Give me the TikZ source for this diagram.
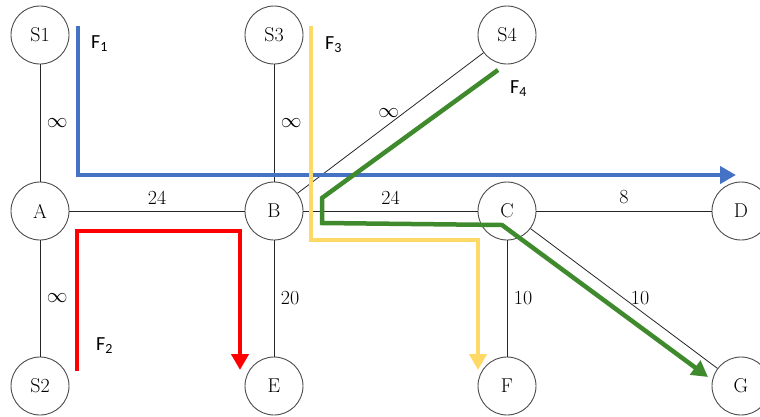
\documentclass[tikz,border=0pt]{standalone}
\usepackage{fontspec}
\newfontfamily\flowfont{Carlito}
\usetikzlibrary{arrows.meta}
\definecolor{flowblue}{RGB}{68,114,196}
\definecolor{flowyellow}{RGB}{255,217,102}
\definecolor{flowred}{RGB}{255,0,0}
\definecolor{flowgreen}{RGB}{64,138,46}
\tikzset{
  vertex/.style={circle, draw=black!70, line width=0.9pt, minimum size=58pt, inner sep=0pt, font=\fontsize{20}{24}\selectfont},
  edge/.style={draw=black!85, line width=0.8pt},
  elabel/.style={inner sep=6.5pt, font=\fontsize{20}{24}\selectfont},
  flow/.style={line width=4.5pt, line join=miter, line cap=butt},
  flowtip/.style={-{Triangle[length=16pt,width=17pt]}},
  flowlabel/.style={anchor=base west, inner sep=0pt, font=\flowfont\fontsize{20}{24}\selectfont}
}
\begin{document}
\begin{tikzpicture}[x=1pt,y=-1pt]
\useasboundingbox (0,0) rectangle (760,416);
% vertices
\node[vertex] (S1) at (40,35) {S1};
\node[vertex] (S3) at (274,35) {S3};
\node[vertex] (S4) at (507,35) {S4};
\node[vertex] (A) at (40,211) {A};
\node[vertex] (B) at (274,211) {B};
\node[vertex] (C) at (507,211) {C};
\node[vertex] (D) at (741,211) {D};
\node[vertex] (S2) at (40,386) {S2};
\node[vertex] (E) at (274,386) {E};
\node[vertex] (F) at (507,386) {F};
\node[vertex] (G) at (741,386) {G};
% edges
\draw[edge] (S1) -- node[elabel, right] {$\infty$} (A);
\draw[edge] (S3) -- node[elabel, right] {$\infty$} (B);
\draw[edge] (B) -- node[elabel, above, pos=0.49] {$\infty$} (S4);
\draw[edge] (A) -- node[elabel, above] {24} (B);
\draw[edge] (B) -- node[elabel, above] {24} (C);
\draw[edge] (C) -- node[elabel, above] {8} (D);
\draw[edge] (A) -- node[elabel, right] {$\infty$} (S2);
\draw[edge] (B) -- node[elabel, right] {20} (E);
\draw[edge] (C) -- node[elabel, right] {10} (F);
\draw[edge] (C) -- node[elabel, right] {10} (G);
% flow coordinates
\coordinate (f1s) at (78,26);
\coordinate (f1c) at (78,175);
\coordinate (f1e) at (736,175);
\coordinate (f2s) at (77,371);
\coordinate (f2a) at (77,231);
\coordinate (f2b) at (240,231);
\coordinate (f2e) at (240,370);
\coordinate (f3s) at (311,26);
\coordinate (f3a) at (311,240);
\coordinate (f3b) at (478,240);
\coordinate (f3e) at (478,370);
\coordinate (f4s) at (498,70);
\coordinate (f4a) at (322,198);
\coordinate (f4b) at (322,223);
\coordinate (f4c) at (502,225);
\coordinate (f4e) at (708,377);
% flows
\draw[flow, flowtip, flowblue] (f1s) -- (f1c) -- (f1e);
\draw[flow, flowtip, flowred] (f2s) -- (f2a) -- (f2b) -- (f2e);
\draw[flow, flowtip, flowyellow] (f3s) -- (f3a) -- (f3b) -- (f3e);
\draw[flow, flowtip, flowgreen] (f4s) -- (f4a) -- (f4b) -- (f4c) -- (f4e);
% flow labels
\node[flowlabel] (L1) at (91,48) {F\textsubscript{1}};
\node[flowlabel] (L2) at (96,350) {F\textsubscript{2}};
\node[flowlabel] (L3) at (325,49) {F\textsubscript{3}};
\node[flowlabel] (L4) at (510,93) {F\textsubscript{4}};
\end{tikzpicture}
\end{document}
